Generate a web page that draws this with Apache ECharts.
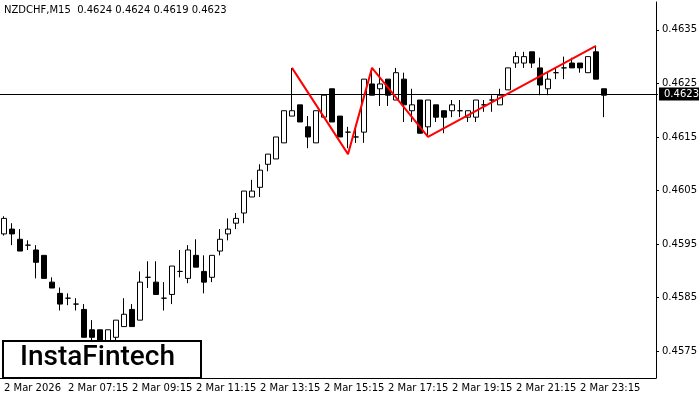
<!DOCTYPE html>
<html>
<head>
<meta charset="utf-8">
<script src="https://cdn.jsdelivr.net/npm/echarts@6/dist/echarts.min.js"></script>
<style>html,body{margin:0;padding:0;background:#fff}#chart{width:700px;height:400px}</style>
</head>
<body>
<div id="chart"></div>
<script>
// OHLC per 15-minute bar, starting 05:15
const opens  = [.45969,.45978,.45959,.45948,.45939,.45929,.45879,.45858,.45849,.45838,.45828,.45790,.45790,.45770,.45776,.45796,.45828,.45808,.45888,.45879,.45849,.45856,.45899,.45886,.45929,.45899,.45888,.45937,.45969,.45989,.46008,.46038,.46056,.46099,.46109,.46139,.46189,.46210,.46169,.46139,.46187,.46240,.46189,.46159,.46150,.46159,.46249,.46240,.46258,.46219,.46258,.46199,.46219,.46169,.46210,.46199,.46199,.46199,.46187,.46187,.46210,.46219,.46210,.46238,.46288,.46288,.46309,.46279,.46240,.46270,.46279,.46288,.46288,.46270,.46309,.46240]
const highs  = [.46002,.45989,.45978,.45957,.45948,.45929,.45888,.45869,.45858,.45849,.45838,.45808,.45790,.45790,.45808,.45849,.45838,.45899,.45918,.45918,.45879,.45909,.45939,.45948,.45959,.45929,.45929,.45978,.45998,.46008,.46049,.46070,.46099,.46118,.46150,.46199,.46279,.46210,.46189,.46199,.46228,.46240,.46189,.46169,.46167,.46258,.46279,.46279,.46258,.46279,.46270,.46240,.46219,.46219,.46210,.46199,.46219,.46219,.46199,.46219,.46219,.46228,.46240,.46279,.46309,.46309,.46309,.46298,.46270,.46279,.46300,.46298,.46288,.46300,.46320,.46240]
const lows   = [.45966,.45948,.45937,.45939,.45886,.45886,.45868,.45826,.45836,.45826,.45776,.45761,.45755,.45761,.45770,.45796,.45796,.45808,.45868,.45856,.45826,.45838,.45888,.45877,.45907,.45858,.45879,.45929,.45957,.45978,.45989,.46038,.46038,.46086,.46109,.46139,.46189,.46178,.46129,.46139,.46187,.46178,.46150,.46129,.46139,.46139,.46228,.46208,.46208,.46219,.46178,.46178,.46157,.46150,.46178,.46157,.46187,.46187,.46178,.46178,.46197,.46197,.46210,.46238,.46279,.46279,.46279,.46228,.46228,.46258,.46258,.46279,.46270,.46270,.46258,.46187]
const closes = [.45998,.45969,.45937,.45948,.45916,.45886,.45868,.45838,.45849,.45838,.45776,.45776,.45770,.45790,.45808,.45819,.45796,.45879,.45888,.45856,.45849,.45909,.45899,.45939,.45907,.45879,.45929,.45959,.45978,.45998,.46049,.46049,.46088,.46118,.46150,.46199,.46199,.46178,.46150,.46199,.46228,.46178,.46150,.46159,.46150,.46258,.46228,.46249,.46228,.46270,.46210,.46210,.46157,.46219,.46187,.46187,.46210,.46199,.46199,.46219,.46210,.46219,.46228,.46279,.46300,.46300,.46288,.46247,.46258,.46270,.46279,.46279,.46279,.46300,.46258,.46228]
// pattern line: bar index and price
const patternIdx   = [36, 43, 46, 53, 74]
const patternPrice = [.46279, .46118, .46279, .46150, .46320]
const priceTicks = [0.4575, 0.4585, 0.4595, 0.4605, 0.4615, 0.4625, 0.4635]
const lastPrice = 0.4623
const slots = 82

const times = []
for (let i = 0; i < slots; i++) {
  const m = 5 * 60 + 15 + i * 15
  const hh = String(Math.floor(m / 60) % 24).padStart(2, '0')
  const mm = String(m % 60).padStart(2, '0')
  times.push(i === 0 ? '2 Mar 2026' : '2 Mar ' + hh + ':' + mm)
}
const ohlc = opens.map((o, i) => [o, closes[i], lows[i], highs[i]])

const chart = echarts.init(document.getElementById('chart'))
chart.setOption({
  animation: false,
  textStyle: { fontFamily: 'DejaVu Sans' },
  grid: { left: 0, right: 42, top: 2, bottom: 22 },
  xAxis: {
    type: 'category', data: times, boundaryGap: true,
    axisLine: { lineStyle: { color: '#000' } },
    axisTick: { interval: 7, length: 3, alignWithLabel: true, lineStyle: { color: '#000' } },
    axisLabel: { interval: 7, color: '#000', fontSize: 10, align: 'left', margin: 5,
      formatter: (v, i) => i > 75 ? '' : v },
    splitLine: { show: false }
  },
  yAxis: {
    type: 'value', position: 'right', scale: true,
    min: 0.4570, max: 0.46402,
    axisLine: { show: true, lineStyle: { color: '#000' } },
    axisTick: { show: true, length: 3, customValues: priceTicks, lineStyle: { color: '#000' } },
    axisLabel: { customValues: priceTicks, color: '#000', fontSize: 10, margin: 6,
      formatter: v => v.toFixed(4) },
    splitLine: { show: false }
  },
  series: [
    {
      type: 'candlestick', data: ohlc, barWidth: 6,
      itemStyle: { color: '#fff', color0: '#000', borderColor: '#000', borderColor0: '#000', borderWidth: 1 }
    },
    {
      type: 'line', data: patternIdx.map((x, i) => [x, patternPrice[i]]),
      symbol: 'none', lineStyle: { color: '#ff0000', width: 2 }, z: 5
    }
  ]
})
// current price line and tag
const py = Math.round(chart.convertToPixel({ yAxisIndex: 0 }, lastPrice)) + 0.5
chart.setOption({ graphic: [
  { type: 'line', shape: { x1: 0, y1: py, x2: 658, y2: py }, style: { stroke: '#000', lineWidth: 1 }, z: 4 },
  { type: 'rect', shape: { x: 659, y: py - 7, width: 40, height: 13 }, style: { fill: '#000' }, z: 12 },
  { type: 'text', x: 664, y: py - 5, style: { text: lastPrice.toFixed(4), fontSize: 10, fill: '#fff', fontFamily: 'DejaVu Sans' }, z: 13 },
  { type: 'text', x: 4, y: 5, style: { text: 'NZDCHF,M15  0.4624 0.4624 0.4619 0.4623', fontSize: 10, fill: '#000', fontFamily: 'DejaVu Sans' } },
  { type: 'rect', shape: { x: 3, y: 341, width: 198, height: 37 }, style: { fill: '#fff', stroke: '#000', lineWidth: 2 }, z: 10 },
  { type: 'text', x: 20, y: 344, style: { text: 'InstaFintech', fontSize: 28, fontWeight: 500, fill: '#000', fontFamily: 'Roboto' }, z: 11 }
] })
</script>
</body>
</html>
